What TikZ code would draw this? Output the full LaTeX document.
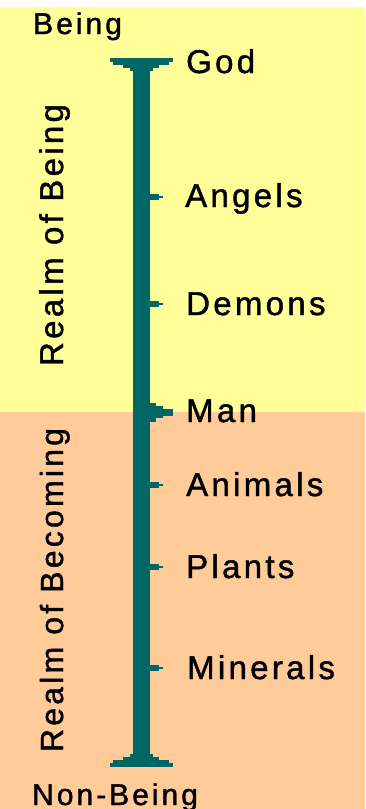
\documentclass[tikz,border=0pt]{standalone}
\usepackage{fontspec}
\newfontfamily\lab[LetterSpace=10,FakeBold=1.3]{Liberation Sans}
\definecolor{beingbg}{HTML}{FFFF99}
\definecolor{becombg}{HTML}{FFCC99}
\definecolor{barcol}{HTML}{006666}
\tikzset{
  lbl/.style={anchor=base west, inner sep=0pt, font=\lab\fontsize{33}{36}\selectfont},
  endlbl/.style={anchor=base west, inner sep=0pt, font=\lab\fontsize{30}{34}\selectfont},
  realm/.style={anchor=base, rotate=90, inner sep=0pt, font=\lab\fontsize{32}{36}\selectfont},
  barfill/.style={fill=barcol}
}
\newcommand{\smalltick}[1]{%
  \fill[barfill] (150,#1-3) rectangle (159,#1+3);
  \fill[barfill] (159,#1-1.2) rectangle (163,#1+1.3);}
\begin{document}
\begin{tikzpicture}[x=1pt,y=-1pt]
\useasboundingbox (0,0) rectangle (365,809);
\fill[white] (0,0) rectangle (365,809);
\fill[beingbg] (0,7) rectangle (365,412);
\fill[becombg] (0,412) rectangle (365,809);
% scale bar
\coordinate (top) at (141.5,58);
\coordinate (bottom) at (141.5,767);
\fill[barfill] (133,58) rectangle (150,767);
% top flange
\fill[barfill] (110,58) rectangle (173,62);
\fill[barfill] (113,62) rectangle (169,65);
\fill[barfill] (123,65) rectangle (159,68);
\fill[barfill] (130,68) rectangle (153,71);
% bottom flange
\fill[barfill] (130,754) rectangle (153,757);
\fill[barfill] (123,757) rectangle (159,760);
\fill[barfill] (113,760) rectangle (169,763);
\fill[barfill] (110,763) rectangle (173,767);
% ticks
\smalltick{197}
\smalltick{304}
\fill[barfill] (150,403) rectangle (156,422);
\fill[barfill] (156,406) rectangle (163,418);
\fill[barfill] (163,409) rectangle (173,416);
\smalltick{485}
\smalltick{567}
\smalltick{668}
% labels
\node[endlbl] (being) at (33,34) {Being};
\node[endlbl] (nonbeing) at (32,805) {Non-Being};
\node[lbl] (god) at (186,73) {God};
\node[lbl] (angels) at (185,207) {Angels};
\node[lbl] (demons) at (186,315) {Demons};
\node[lbl] (man) at (186,422) {Man};
\node[lbl] (animals) at (186,496) {Animals};
\node[lbl] (plants) at (186,578) {Plants};
\node[lbl] (minerals) at (187,679) {Minerals};
\node[realm, font=\lab\fontsize{33}{36}\selectfont] (rbeing) at (63,235) {Realm of Being};
\node[realm] (rbecoming) at (63,590) {Realm of Becoming};
\end{tikzpicture}
\end{document}
